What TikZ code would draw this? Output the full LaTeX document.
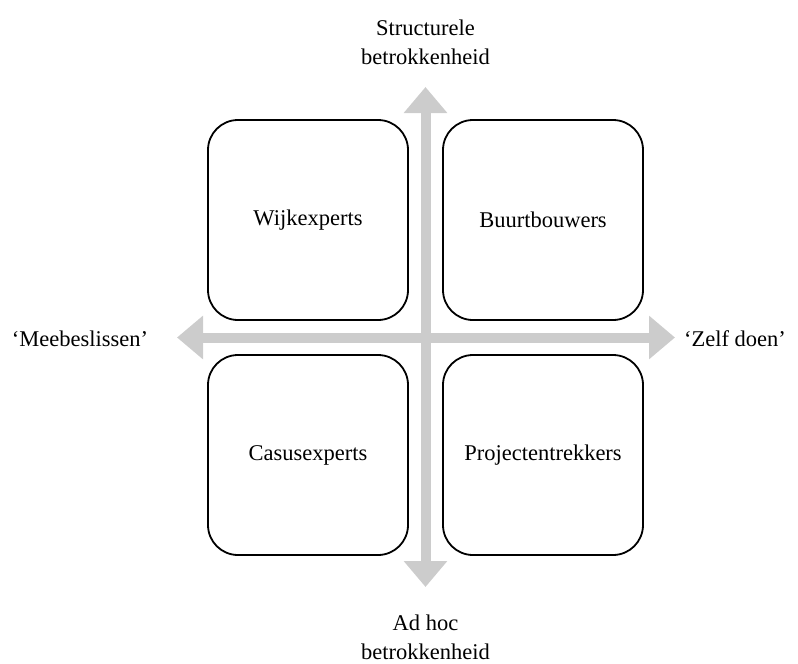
\documentclass[tikz,border=0pt]{standalone}
\usepackage{fontspec}
\setmainfont{Liberation Serif}
\usetikzlibrary{arrows.meta}
\definecolor{axisgray}{RGB}{204,204,204}
\tikzset{
  quadbox/.style={draw, line width=1.8pt, rounded corners=30pt, minimum width=200pt, minimum height=200pt, font=\fontsize{22.5}{29}\selectfont},
  axisarrow/.style={axisgray, line width=10pt, -{Triangle[width=42pt,length=26pt]}},
  lbl/.style={font=\fontsize{22.5}{29}\selectfont, align=center, inner sep=0pt}
}
\begin{document}
\begin{tikzpicture}[x=1pt,y=-1pt]

\useasboundingbox (0,0) rectangle (798,664);

% Axes
  \coordinate (top) at (425.5,87);
  \coordinate (bottom) at (425.5,587);
  \coordinate (left) at (177,337.5);
  \coordinate (right) at (675,337.5);
  \coordinate (origin) at (425.5,337.5);

  \draw[axisarrow] (origin) -- (top);
  \draw[axisarrow] (origin) -- (bottom);
  \draw[axisarrow] (origin) -- (left);
  \draw[axisarrow] (origin) -- (right);

% Quadrants
  \node[quadbox] (wijk) at (308,220) {Wijkexperts};
  \node[quadbox] (buurt) at (543,220) {Buurtbouwers};
  \node[quadbox] (casus) at (308,455) {Casusexperts};
  \node[quadbox] (project) at (543,455) {Projectentrekkers};

% Labels
  \node[lbl] (structureel) at (425.5,42) {Structurele\\betrokkenheid};
  \node[lbl] (adhoc) at (425.5,637) {Ad hoc\\betrokkenheid};
  \node[lbl, anchor=base] (meebeslissen) at (80,346) {‘Meebeslissen’};
  \node[lbl, anchor=base] (zelfdoen) at (735,346) {‘Zelf doen’};

\end{tikzpicture}
\end{document}
